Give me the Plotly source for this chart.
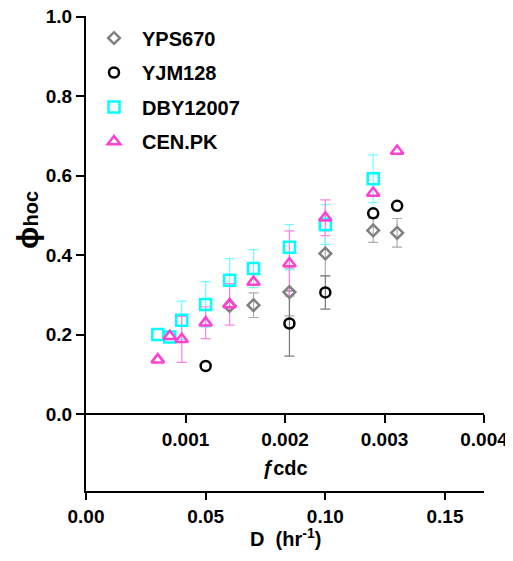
import plotly.graph_objects as go

# ---- data ----
D_YPS = [0.06, 0.07, 0.085, 0.10, 0.12, 0.13]
phi_YPS = [0.272, 0.274, 0.307, 0.404, 0.462, 0.456]
err_YPS = [None, 0.031, 0.06, 0.057, 0.03, 0.036]

D_YJM = [0.05, 0.085, 0.10, 0.12, 0.13]
phi_YJM = [0.121, 0.228, 0.306, 0.505, 0.524]
err_YJM = [None, 0.082, 0.042, None, None]

D_DBY = [0.03, 0.035, 0.04, 0.05, 0.06, 0.07, 0.085, 0.10, 0.12]
phi_DBY = [0.200, 0.194, 0.236, 0.276, 0.337, 0.366, 0.420, 0.477, 0.592]
err_DBY = [None, None, 0.048, 0.057, 0.054, 0.048, 0.057, 0.05, 0.06]

D_CEN = [0.03, 0.035, 0.04, 0.05, 0.06, 0.07, 0.085, 0.10, 0.12, 0.13]
phi_CEN = [0.137, 0.196, 0.188, 0.230, 0.276, 0.332, 0.379, 0.494, 0.556, 0.662]
err_CEN = [None, None, 0.058, 0.04, 0.052, None, 0.082, 0.045, None, None]

y_ticks = [0.0, 0.2, 0.4, 0.6, 0.8, 1.0]
y_ticklabels = ["0.0", "0.2", "0.4", "0.6", "0.8", "1.0"]
d_ticks = [0.0, 0.05, 0.10, 0.15]
d_ticklabels = ["0.00", "0.05", "0.10", "0.15"]
f_ticks = [0.001, 0.002, 0.003, 0.004]
f_ticklabels = ["0.001", "0.002", "0.003", "0.004"]

series = [
    ("YPS670", D_YPS, phi_YPS, err_YPS, "diamond-open", 9, "#808080", "#ADADAD"),
    ("YJM128", D_YJM, phi_YJM, err_YJM, "circle-open", 10, "#000000", "#7A7A7A"),
    ("DBY12007", D_DBY, phi_DBY, err_DBY, "square-open", 11, "#00FFFF", "#70FFFF"),
    ("CEN.PK", D_CEN, phi_CEN, err_CEN, "triangle-up-open", 11, "#FF40D0", "#FF80E0"),
]

FONT = "Liberation Sans, Arial, sans-serif"
fig = go.Figure()

# error bars first (beneath markers)
for name, xs, ys, es, sym, size, col, ecol in series:
    sel = [i for i, e in enumerate(es) if e is not None]
    fig.add_trace(go.Scatter(
        x=[xs[i] for i in sel], y=[ys[i] for i in sel],
        mode="markers", marker=dict(size=1, color="rgba(0,0,0,0)"),
        error_y=dict(type="data", array=[es[i] for i in sel], symmetric=True,
                     color=ecol, thickness=1.2, width=5),
        showlegend=False, hoverinfo="skip"))

for idx, (name, xs, ys, es, sym, size, col, ecol) in enumerate(series):
    fig.add_trace(go.Scatter(
        x=xs, y=ys, mode="markers", name=name, legendgroup=name,
        marker=dict(symbol=sym, size=size, color=col, line=dict(width=2.5, color=col))))

# helper trace to activate the secondary (fcdc) axis
fig.add_trace(go.Scatter(x=[f_ticks[-1]], y=[0], xaxis="x2", mode="markers",
                         marker=dict(size=1, color="rgba(0,0,0,0)"),
                         showlegend=False, hoverinfo="skip"))

# page has an 8px body margin; figure is offset by it
OFF = 8
W, H = 505, 545
L, T = 78, 8
PW, PH = 398, 475
R = W - L - PW
B = H - T - PH


def py(p):  # page pixel y -> paper fraction
    return (T + PH - (p - OFF)) / PH


def px(p):  # page pixel x -> paper fraction
    return (p - OFF - L) / PW


tickfont = dict(family=FONT, size=19, color="black", weight="bold")

fig.update_layout(
    template="none",
    width=W, height=H, margin=dict(l=L, r=R, t=T, b=B, autoexpand=False),
    plot_bgcolor="white", paper_bgcolor="white",
    font=dict(family=FONT, color="black"),
    xaxis=dict(range=[0, 0.1663], showline=True, linewidth=2, linecolor="black",
               ticks="outside", ticklen=7, tickwidth=2, tickcolor="black",
               tickvals=d_ticks, ticktext=d_ticklabels, tickfont=tickfont,
               showgrid=False, zeroline=False, automargin=False,
               ticklabeloverflow="allow"),
    xaxis2=dict(range=[0, 0.004], overlaying="x", anchor="free", position=py(414),
                side="bottom", showline=True, linewidth=2, linecolor="black",
                ticks="outside", ticklen=8, tickwidth=2, tickcolor="black",
                tickvals=f_ticks, ticktext=f_ticklabels, tickfont=tickfont,
                showgrid=False, zeroline=False, automargin=False,
                ticklabeloverflow="allow"),
    yaxis=dict(range=[-0.1935, 1.0015], showline=True, linewidth=2, linecolor="black",
               ticks="outside", ticklen=8, tickwidth=2, tickcolor="black",
               tickvals=y_ticks, ticktext=y_ticklabels, tickfont=tickfont,
               showgrid=False, zeroline=False, automargin=False,
               ticklabeloverflow="allow"),
    legend=dict(x=px(86), y=py(18.5), xanchor="left", yanchor="top",
                font=dict(family=FONT, size=20, color="black", weight="bold"),
                tracegroupgap=5.5, bgcolor="rgba(0,0,0,0)", itemwidth=46),
    showlegend=True,
)

fig.add_annotation(xref="paper", yref="paper", x=0.5, y=py(537), showarrow=False,
                   text="D  (hr<sup>-1</sup>)", xanchor="center", yanchor="middle",
                   font=dict(family=FONT, size=20, color="black", weight="bold"))
fig.add_annotation(xref="paper", yref="paper", x=0.5, y=py(468), showarrow=False,
                   text="<i>ƒ</i>cdc", xanchor="center", yanchor="middle",
                   font=dict(family=FONT, size=20, color="black", weight="bold"))
fig.add_annotation(xref="paper", yref="paper", x=px(27), y=py(220), showarrow=False,
                   text="<span style='font-size:30px'>ϕ</span>hoc", textangle=-90,
                   xanchor="center", yanchor="middle",
                   font=dict(family=FONT, size=20, color="black", weight="bold"))

fig.write_html("out.html")
